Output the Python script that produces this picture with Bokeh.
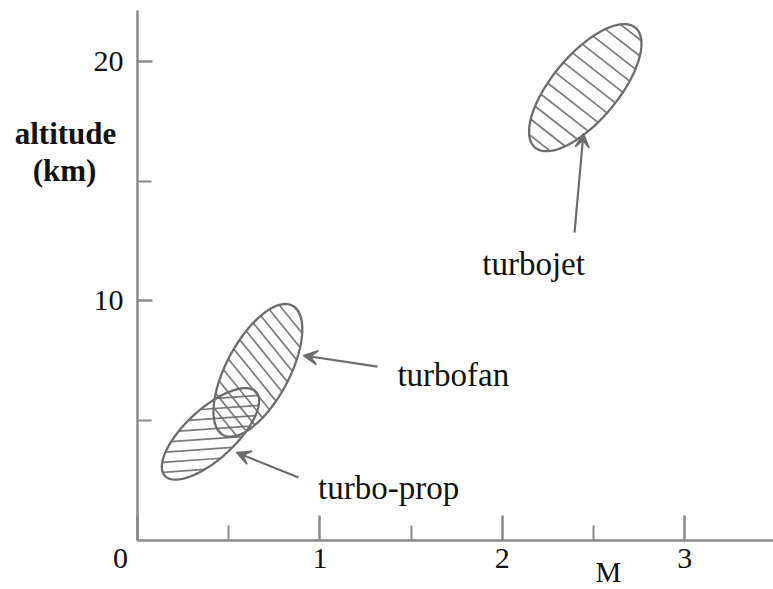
import math
import numpy as np
from bokeh.plotting import figure
from bokeh.models import FixedTicker, Label, Arrow, VeeHead, Range1d
from bokeh.core.properties import value
from bokeh.embed import file_html
from bokeh.resources import INLINE

# ---- data ---------------------------------------------------------------
engines = ["turbo-prop", "turbofan", "turbojet"]
# operating envelope of each engine type, given by the two ends of its long axis
mach_low = [0.15, 0.47, 2.18]
alt_low = [2.7, 4.4, 16.4]      # km
mach_high = [0.65, 0.85, 2.73]
alt_high = [6.2, 9.8, 21.4]     # km

x_ticks = [0, 1, 2, 3]
x_minor = [0.5, 1.5, 2.5]
y_ticks = [10, 20]
y_minor = [5, 15]

# callouts: label anchor (left edge, baseline) and arrow tail / tip, in data units
label_mach = [0.99, 1.425, 1.89]
label_alt = [2.21, 6.89, 11.56]
tail_mach = [0.883, 1.316, 2.396]
tail_alt = [2.63, 7.26, 12.85]
tip_mach = [0.543, 0.910, 2.445]
tip_alt = [3.67, 7.72, 16.99]

# ---- styles -------------------------------------------------------------
W, H = 773, 589                 # canvas
ORIGIN_X, ORIGIN_Y = 137, 540   # where M = 0, altitude = 0 sits (px from top-left)
X_MAX, Y_MAX = 3.487, 22.12     # ends of the drawn axis lines
SX = (W - ORIGIN_X) / X_MAX     # pixels per Mach unit
SY = (ORIGIN_Y - 10) / Y_MAX    # pixels per km

envelope_width = {"turbo-prop": 50, "turbofan": 63, "turbojet": 66}   # px
hatch_angle = {"turbo-prop": 4, "turbofan": -51, "turbojet": -38}    # degrees
hatch_gap = {"turbo-prop": 10, "turbofan": 10.5, "turbojet": 13}     # px

INK = "#111111"
GREY = "#8a8a8a"
LINE = "#6c6c6c"
SERIF = "Liberation Serif"


def to_px(m, a):
    return m * SX, a * SY


def to_data(x, y):
    return x / SX, y / SY


def envelope(m0, a0, m1, a1, width):
    x0, y0 = to_px(m0, a0)
    x1, y1 = to_px(m1, a1)
    cx, cy = (x0 + x1) / 2, (y0 + y1) / 2
    a = math.hypot(x1 - x0, y1 - y0) / 2
    b = width / 2
    th = math.atan2(y1 - y0, x1 - x0)
    return cx, cy, a, b, th


def outline(cx, cy, a, b, th):
    t = np.linspace(0, 2 * np.pi, 161)
    x = cx + a * np.cos(t) * math.cos(th) - b * np.sin(t) * math.sin(th)
    y = cy + a * np.cos(t) * math.sin(th) + b * np.sin(t) * math.cos(th)
    return to_data(x, y)


def hatch(cx, cy, a, b, th, phi_deg, gap):
    phi = math.radians(phi_deg)
    u = (math.cos(phi), math.sin(phi))
    n = (-math.sin(phi), math.cos(phi))
    e1 = (math.cos(th), math.sin(th))
    e2 = (-math.sin(th), math.cos(th))
    dot = lambda p, q: p[0] * q[0] + p[1] * q[1]
    A, B = dot(u, e1) / a, dot(u, e2) / b
    xs, ys = [], []
    k_max = int(a / gap) + 2
    for k in range(-k_max, k_max + 1):
        s = (k + 0.5) * gap
        C, D = s * dot(n, e1) / a, s * dot(n, e2) / b
        qa = A * A + B * B
        qb = 2 * (A * C + B * D)
        qc = C * C + D * D - 1
        disc = qb * qb - 4 * qa * qc
        if disc <= 0:
            continue
        r = math.sqrt(disc)
        t1, t2 = (-qb - r) / (2 * qa), (-qb + r) / (2 * qa)
        px = [cx + s * n[0] + t * u[0] for t in (t1, t2)]
        py = [cy + s * n[1] + t * u[1] for t in (t1, t2)]
        mx, my = to_data(np.array(px), np.array(py))
        xs.append(list(mx))
        ys.append(list(my))
    return xs, ys


# ---- figure -------------------------------------------------------------
# the frame covers the whole canvas; the axes are pinned to the origin
p = figure(frame_width=W, frame_height=H,
           x_range=Range1d(-ORIGIN_X / SX, X_MAX),
           y_range=Range1d(-(H - ORIGIN_Y) / SY, ORIGIN_Y / SY),
           output_backend="svg", toolbar_location=None,
           min_border=0)
p.outline_line_color = None
p.grid.visible = False
p.background_fill_color = "white"

for ax in (p.xaxis, p.yaxis):
    ax.fixed_location = 0
    ax.axis_line_color = GREY
    ax.axis_line_width = 2.5
    ax.major_tick_line_color = GREY
    ax.major_tick_line_width = 2.5
    ax.minor_tick_line_color = GREY
    ax.minor_tick_line_width = 2
    ax.major_tick_out = 0
    ax.minor_tick_out = 0
    ax.major_label_text_font = SERIF
    ax.major_label_text_font_size = "30px"
    ax.major_label_text_color = INK

p.xaxis.bounds = (0, X_MAX)
p.xaxis.ticker = FixedTicker(ticks=x_ticks, minor_ticks=x_minor)
p.xaxis.major_label_overrides = {0: ""}
p.xaxis.major_tick_in = 25
p.xaxis.minor_tick_in = 15
p.xaxis.major_label_standoff = 8

p.yaxis.bounds = (0, Y_MAX)
p.yaxis.ticker = FixedTicker(ticks=y_ticks, minor_ticks=y_minor)
p.yaxis.major_tick_in = 15
p.yaxis.minor_tick_in = 14
p.yaxis.major_label_standoff = 14

# envelopes with their hatching
for i, name in enumerate(engines):
    geom = envelope(mach_low[i], alt_low[i], mach_high[i], alt_high[i],
                    envelope_width[name])
    hx, hy = hatch(*geom, hatch_angle[name], hatch_gap[name])
    p.multi_line(hx, hy, line_color=LINE, line_width=1.7, line_alpha=0.9)
    ox, oy = outline(*geom)
    p.patch(list(ox), list(oy), fill_color=None, line_color=LINE, line_width=2.3)

# callout arrows and names
for i in range(len(engines)):
    p.add_layout(Arrow(end=VeeHead(size=14, fill_color=LINE, line_color=LINE,
                                   line_width=1.5),
                       x_start=tail_mach[i], y_start=tail_alt[i],
                       x_end=tip_mach[i], y_end=tip_alt[i],
                       line_color=LINE, line_width=2.2))

p.text(x=label_mach, y=label_alt, text=engines,
       text_font=value(SERIF), text_font_size="33px", text_color=INK,
       text_align="left", text_baseline="alphabetic")


# origin label and axis titles
def side_label(text, x, y, size, baseline, style="normal"):
    p.add_layout(Label(x=x, y=y, text=text, text_font=SERIF,
                       text_font_size=size, text_font_style=style,
                       text_color=INK, text_align="center",
                       text_baseline=baseline))


side_label("0", -17 / SX, -18 / SY, "30px", "middle")
side_label("M", 471 / SX, -31 / SY, "29px", "middle")
side_label("altitude", -72 / SX, 407 / SY, "31px", "alphabetic", "bold")
side_label("(km)", -73 / SX, 370 / SY, "31px", "alphabetic", "bold")

open("out.html", "w").write(file_html(p, INLINE))
